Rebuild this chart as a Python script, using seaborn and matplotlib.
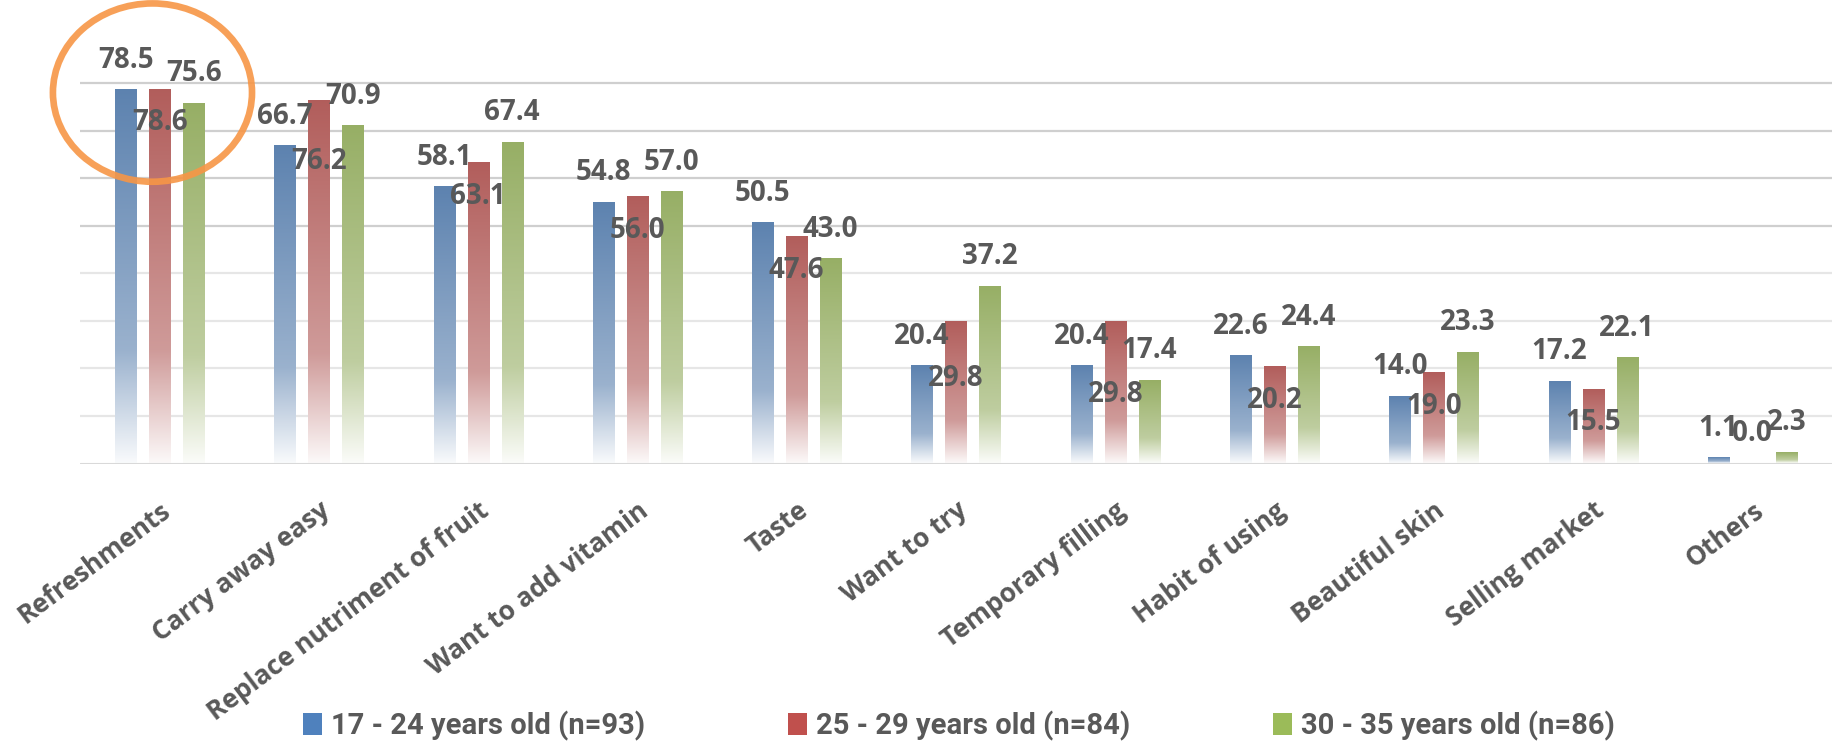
import matplotlib.pyplot as plt
import numpy as np
import pandas as pd
import seaborn as sns
from matplotlib.colors import to_rgb
from matplotlib.patches import Ellipse, Patch

categories = ['Refreshments', 'Carry away easy', 'Replace nutriment of fruit', 'Want to add vitamin',
              'Taste', 'Want to try', 'Temporary filling', 'Habit of using', 'Beautiful skin',
              'Selling market', 'Others']
groups = ['17 - 24 years old (n=93)', '25 - 29 years old (n=84)', '30 - 35 years old (n=86)']
age_17_24 = [78.5, 66.7, 58.1, 54.8, 50.5, 20.4, 20.4, 22.6, 14.0, 17.2, 1.1]
age_25_29 = [78.6, 76.2, 63.1, 56.0, 47.6, 29.8, 29.8, 20.2, 19.0, 15.5, 0.0]
age_30_35 = [75.6, 70.9, 67.4, 57.0, 43.0, 37.2, 17.4, 24.4, 23.3, 22.1, 2.3]

colors = ['#4F81BD', '#C0504D', '#9BBB59']
text_color = '#595959'
# hand-placed red labels in the original (pixels below bar top)
red_label_drop = {1: 60, 5: 57, 6: 73}

df = pd.DataFrame({
    'reason': categories * 3,
    'group': [g for g in groups for _ in categories],
    'percent': age_17_24 + age_25_29 + age_30_35,
})

sns.set_style('white')
plt.rcParams['font.family'] = ['Open Sans', 'DejaVu Sans']

fig = plt.figure(figsize=(18.39, 7.41), dpi=100)
ax = fig.add_axes([80 / 1839, 277.5 / 741, 1752 / 1839, 404.2 / 741])

sns.barplot(data=df, x='reason', y='percent', hue='group', order=categories, hue_order=groups,
            palette=colors, width=0.64, gap=0.38, legend=False, ax=ax, zorder=3)


def gradient(color, n=256):
    t = np.linspace(0, 1, n)
    amount = np.interp(t, [0, 0.7, 1.0], [1.0, 0.62, 0.04])[:, None]
    rgb = np.array(to_rgb(color))[None, :]
    return (amount * rgb + (1 - amount))[:, None, :]


for patch in ax.patches:
    x0, w, h = patch.get_x(), patch.get_width(), patch.get_height()
    if h <= 0:
        continue
    ax.imshow(gradient(patch.get_facecolor()), extent=[x0, x0 + w, 0, h], aspect='auto',
              origin='upper', zorder=3, interpolation='bilinear')
    patch.set_visible(False)

label_font = dict(fontsize=20, fontweight='bold', color=text_color, ha='center', va='center',
                  textcoords='offset pixels', annotation_clip=False, zorder=6)
for i, container in enumerate(ax.containers):
    for j, bar in enumerate(container):
        xc = bar.get_x() + bar.get_width() / 2
        h = bar.get_height()
        if i == 1 and h > 5:
            dy = -red_label_drop.get(j, 33)
        else:
            dy = 30
        ax.annotate(f'{h:.1f}', (xc, h), xytext=(0, dy), **label_font)

ax.set_xlim(-0.5, 10.5)
ax.set_ylim(0, 85)
for v in range(10, 90, 10):
    ax.axhline(v, color='#CFCFCF' if v >= 50 else '#E6E6E6', lw=1.6, zorder=1)
ax.axhline(0, color='#D9D9D9', lw=2.2, zorder=4)
sns.despine(ax=ax, left=True, bottom=True)
ax.set(xlabel='', ylabel='', yticks=[])
ax.set_xticks(range(len(categories)))
ax.set_xticklabels(categories, rotation=37, ha='right', va='top', rotation_mode='anchor',
                   fontsize=19, fontweight='bold', color=text_color)
ax.tick_params(axis='x', length=0, pad=24)

ring = Ellipse((-0.045, 78.0), 1.25, 37.5, fill=False, edgecolor='#F79646', lw=4.8,
               alpha=0.9, clip_on=False, zorder=5)
ax.add_patch(ring)

handles = [Patch(facecolor=c, edgecolor='none') for c in colors]
fig.legend(handles, groups, loc='center', bbox_to_anchor=(959 / 1839, 1 - 726 / 741), ncol=3,
           frameon=False, columnspacing=4.9, handlelength=0.65, handleheight=0.8, handletextpad=0.3,
           prop={'family': ['Roboto', 'DejaVu Sans'], 'weight': 'bold', 'size': 21},
           labelcolor=text_color)

fig.savefig('out.png', dpi=100)
